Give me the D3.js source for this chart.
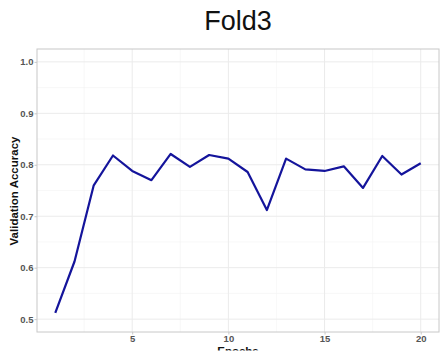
<!DOCTYPE html>
<html><head><meta charset="utf-8">
<script src="https://cdn.jsdelivr.net/npm/d3@7"></script>
<style>body{margin:0;background:#fff}svg{display:block}</style>
</head><body>
<svg id="c" width="441" height="356"></svg>
<script>
const epochs = [1,2,3,4,5,6,7,8,9,10,11,12,13,14,15,16,17,18,19,20];
const accuracy = [0.512,0.612,0.760,0.818,0.788,0.770,0.821,0.796,0.819,0.812,0.786,0.712,0.812,0.791,0.788,0.797,0.755,0.817,0.781,0.803];
const xTicks = [5,10,15,20];
const yTicks = [0.5,0.6,0.7,0.8,0.9,1.0];
const xMinor = [2.5,7.5,12.5,17.5];
const yMinor = [0.55,0.65,0.75,0.85,0.95];
const title = "Fold3", xLabel = "Epochs", yLabel = "Validation Accuracy";

const svg = d3.select("#c");
const L = 37, R = 439, T = 49, B = 332;
const x = d3.scaleLinear().domain([0.05, 20.95]).range([L, R]);
const y = d3.scaleLinear().domain([0.475, 1.025]).range([B, T]);

svg.append("rect").attr("x",L).attr("y",T).attr("width",R-L).attr("height",B-T).attr("fill","#fff");
const g = svg.append("g");
g.selectAll(".ymin").data(yMinor).enter().append("line")
  .attr("x1",L).attr("x2",R).attr("y1",d=>y(d)).attr("y2",d=>y(d)).attr("stroke","#f4f4f4").attr("stroke-width",0.6);
g.selectAll(".xmin").data(xMinor).enter().append("line")
  .attr("y1",T).attr("y2",B).attr("x1",d=>x(d)).attr("x2",d=>x(d)).attr("stroke","#f4f4f4").attr("stroke-width",0.6);
g.selectAll(".ymaj").data(yTicks).enter().append("line")
  .attr("x1",L).attr("x2",R).attr("y1",d=>y(d)).attr("y2",d=>y(d)).attr("stroke","#ebebeb").attr("stroke-width",1);
g.selectAll(".xmaj").data(xTicks).enter().append("line")
  .attr("y1",T).attr("y2",B).attr("x1",d=>x(d)).attr("x2",d=>x(d)).attr("stroke","#ebebeb").attr("stroke-width",1);

const line = d3.line().x((d,i)=>x(epochs[i])).y(d=>y(d));
svg.append("path").datum(accuracy).attr("d",line).attr("fill","none")
  .attr("stroke","#14149b").attr("stroke-width",2.2).attr("stroke-linejoin","round");

svg.append("rect").attr("x",L).attr("y",T).attr("width",R-L).attr("height",B-T)
  .attr("fill","none").attr("stroke","#c8c8c8").attr("stroke-width",1);

const fnt = "'Liberation Sans', Arial, Helvetica, sans-serif";
const xAxis = d3.axisBottom(x).tickValues(xTicks).tickFormat(d3.format("d")).tickSize(2.5).tickPadding(1);
const yAxis = d3.axisLeft(y).tickValues(yTicks).tickFormat(d3.format(".1f")).tickSize(2.5).tickPadding(1);
const gx = svg.append("g").attr("transform",`translate(0,${B})`).call(xAxis);
const gy = svg.append("g").attr("transform",`translate(${L},0)`).call(yAxis);
[gx,gy].forEach(a=>{
  a.select(".domain").remove();
  a.selectAll(".tick line").attr("stroke","#c8c8c8");
  a.selectAll("text").attr("fill","#555").attr("font-family",fnt).attr("font-size","9.5px").attr("font-weight","bold");
});

svg.append("text").attr("x",238).attr("y",30).attr("text-anchor","middle")
  .attr("font-family",fnt).attr("font-size","27px").attr("fill","#111").text(title);
svg.append("text").attr("transform","translate(18,191) rotate(-90)").attr("text-anchor","middle")
  .attr("font-family",fnt).attr("font-size","11.5px").attr("font-weight","bold").attr("fill","#111").text(yLabel);
svg.append("text").attr("x",238).attr("y",355).attr("text-anchor","middle")
  .attr("font-family",fnt).attr("font-size","11.5px").attr("font-weight","bold").attr("fill","#111").text(xLabel);
svg.append("rect").attr("x",0).attr("y",350.5).attr("width",441).attr("height",6).attr("fill","#fff");
</script>
</body></html>
